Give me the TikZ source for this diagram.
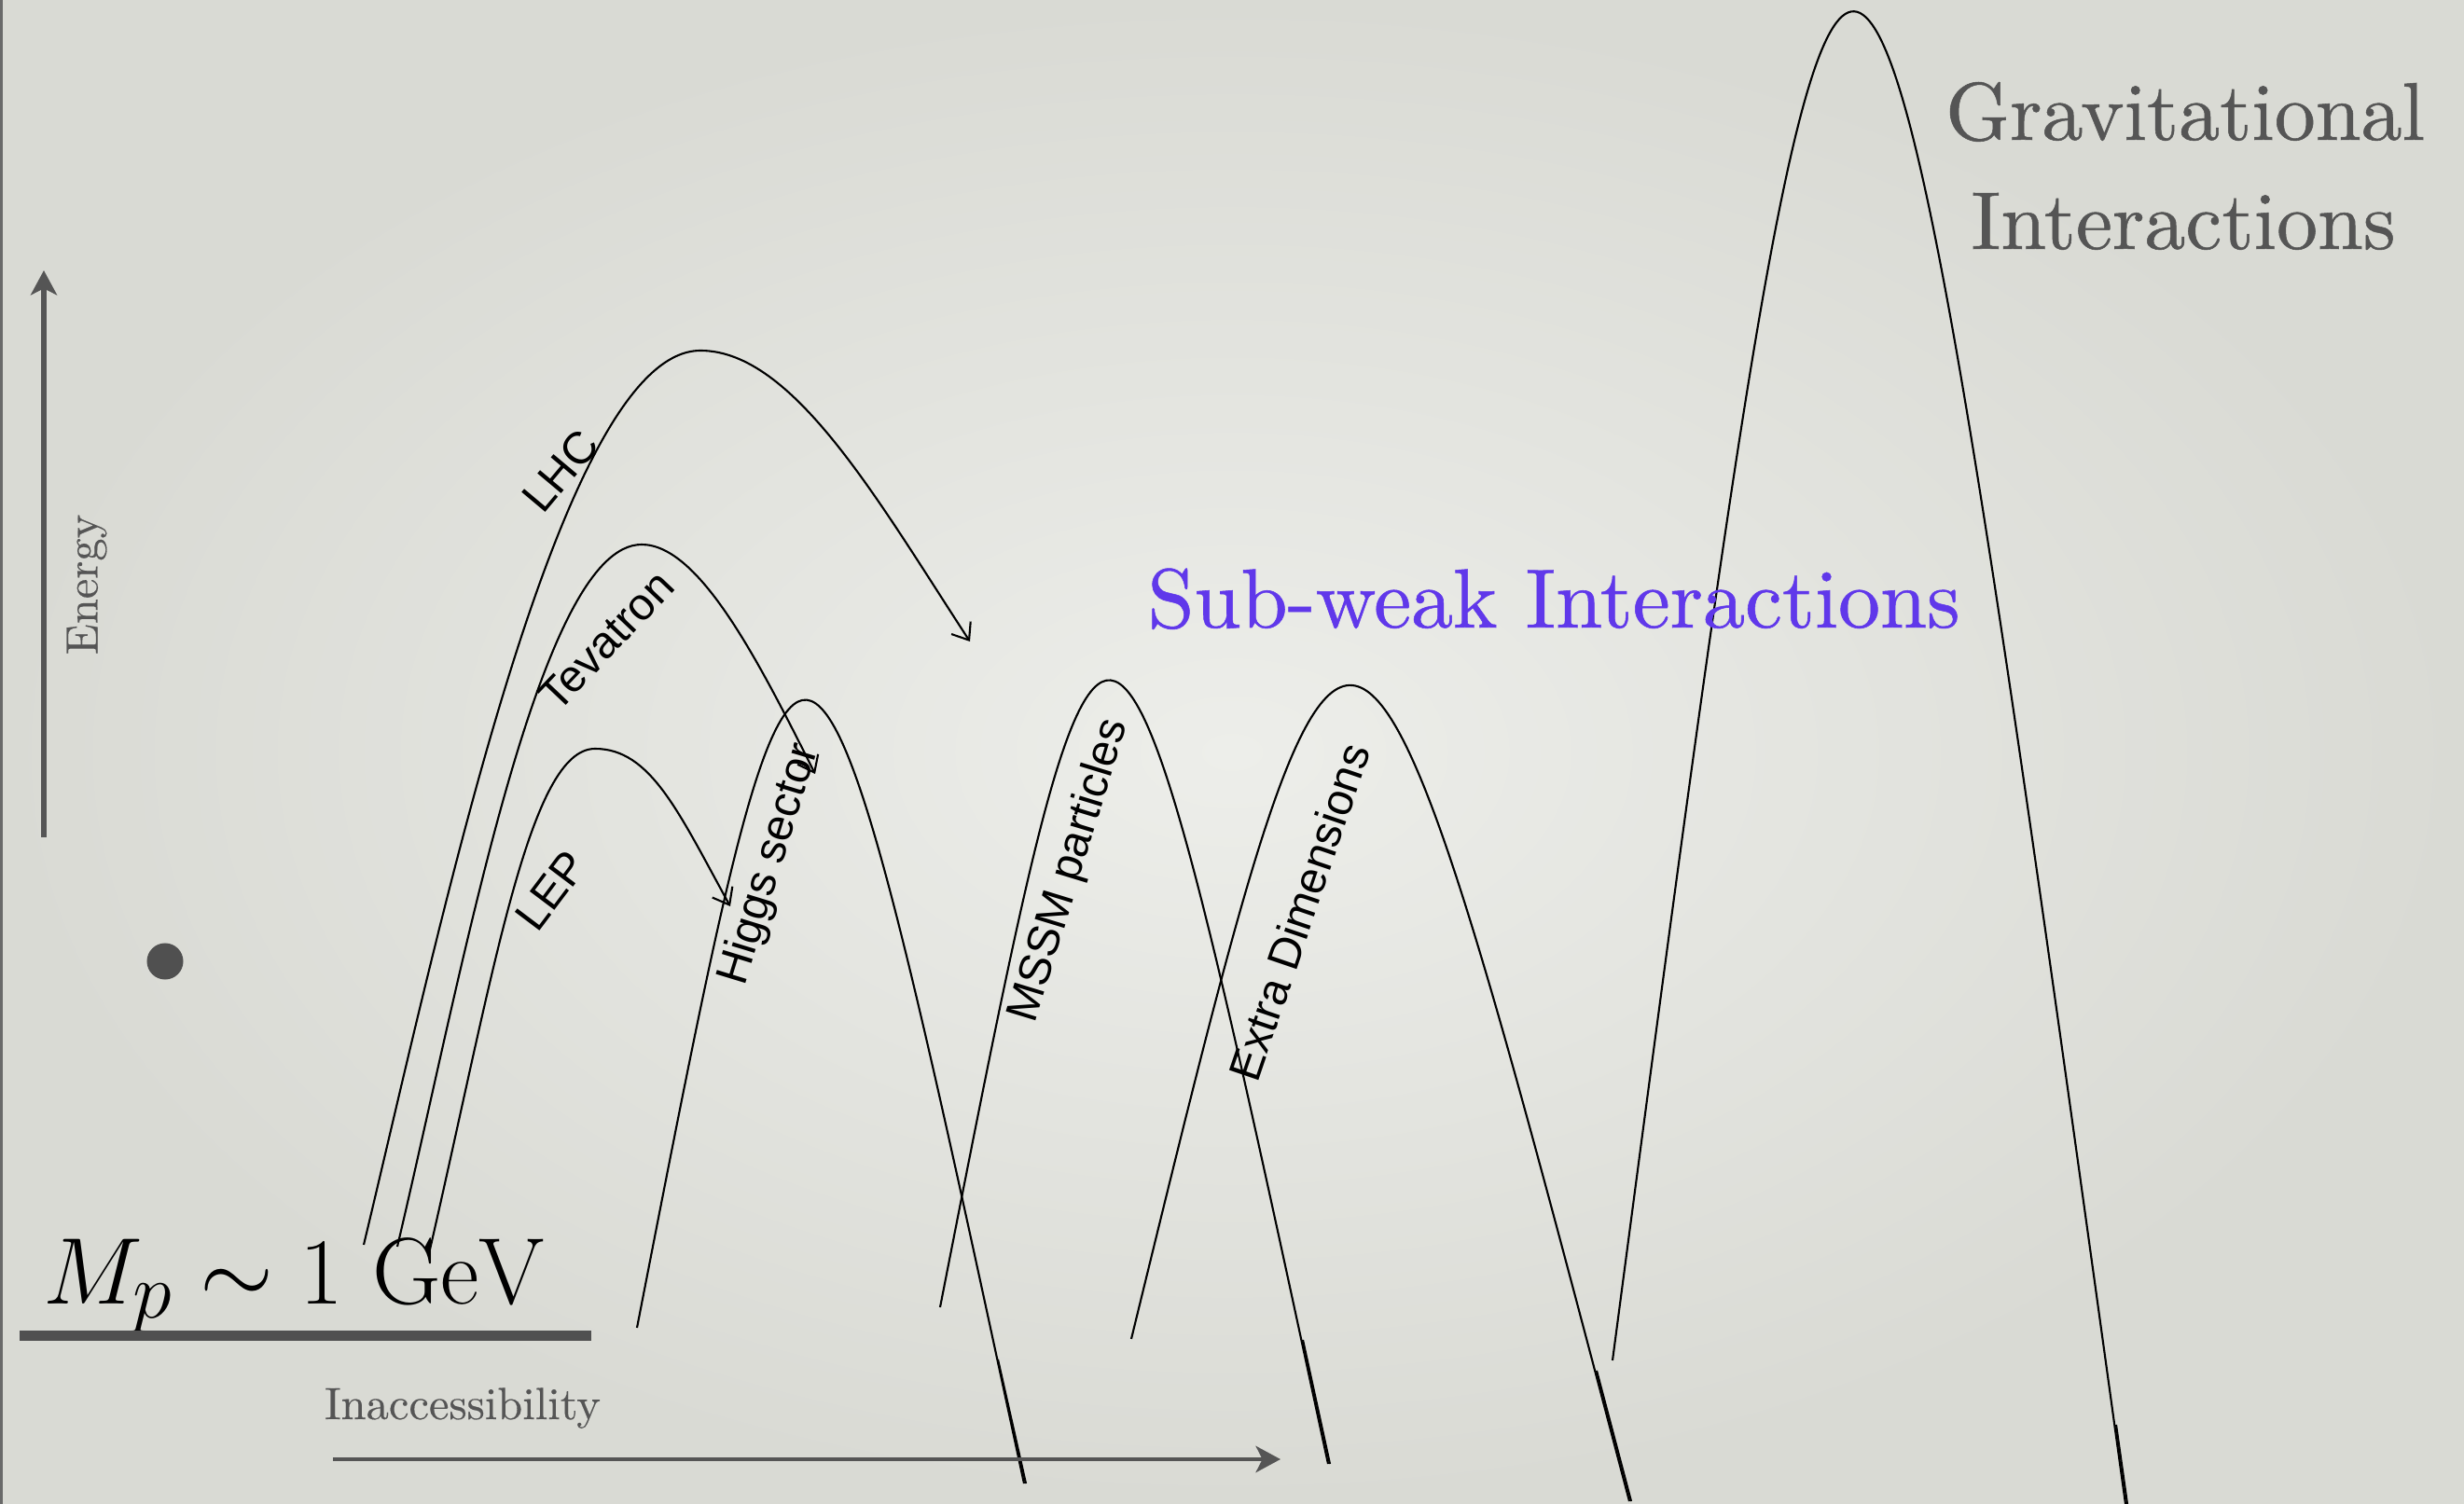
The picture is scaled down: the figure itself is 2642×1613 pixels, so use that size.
\documentclass[tikz,border=0pt]{standalone}
\usepackage{fontspec}
\newfontfamily\labfont{Liberation Sans}
\newfontfamily\serifreg[FakeBold=0.3]{lmroman10-regular.otf}
\newfontfamily\serifheavy[FakeBold=0.6]{lmroman10-regular.otf}
\usetikzlibrary{arrows.meta,bending}
\definecolor{bgin}{RGB}{237,238,234}
\definecolor{bgout}{RGB}{217,218,212}
\definecolor{txtgray}{RGB}{85,85,85}
\definecolor{bargray}{RGB}{80,80,80}
\definecolor{subweak}{RGB}{96,56,234}
\begin{document}
\begin{tikzpicture}[x=0.01cm,y=-0.01cm,
  arch/.style={line width=0.6pt, draw=black},
  archarrow/.style={arch, -{Straight Barb[length=4.5pt,width=7pt,line width=0.6pt]}},
  lab/.style={font=\labfont\fontsize{13.7}{16}\selectfont, inner sep=0pt},
  axisarrow/.style={draw=txtgray, -{Stealth[length=7.5pt,width=8pt,inset=2pt]}},
  grayserif/.style={text=txtgray, inner sep=0pt, font=\serifreg\fontsize{13.8}{16}\selectfont},
  bigserif/.style={inner sep=0pt, font=\serifheavy\fontsize{25}{32}\selectfont},
  ]
\useasboundingbox (0,0) rectangle (2642,1613);
\shade[inner color=bgin, outer color=bgout] (0,0) rectangle (2642,1613);
\fill[bargray!85] (0,0) rectangle (3,1613);

% ---- arches with arrows
\coordinate (lhcA) at (390,1335);
\coordinate (lhcP) at (751,376);
\coordinate (lhcB) at (1040,688);
\draw[archarrow] (lhcA) .. controls (474,985) and (601,376) .. (lhcP)
  .. controls (851,376) and (942,538) .. (lhcB);

\coordinate (tevA) at (426,1337);
\coordinate (tevP) at (688,584);
\coordinate (tevB) at (874,830);
\draw[archarrow] (tevA) .. controls (497,1037) and (578,584) .. (tevP)
  .. controls (750,584) and (814,710) .. (tevB);

\coordinate (lepA) at (461,1340);
\coordinate (lepP) at (638,803);
\coordinate (lepB) at (783,972);
\draw[archarrow] (lepA) .. controls (530,1040) and (568,803) .. (lepP)
  .. controls (698,803) and (728,872) .. (lepB);

% ---- plain arches
\coordinate (higA) at (683,1424);
\coordinate (higB) at (1098,1591);
\draw[arch] (higA) .. controls (863,500) and (863,500) .. (higB);
\draw[arch] (1070,1458) -- (1100,1591);

\coordinate (msA) at (1008,1402);
\coordinate (msB) at (1424,1570);
\draw[arch] (msA) .. controls (1189,479) and (1189,479) .. (msB);
\draw[arch] (1397,1437) -- (1426,1570);

\coordinate (edA) at (1213,1436);
\coordinate (edB) at (1747,1610);
\draw[arch] (edA) .. controls (1448,474) and (1448,474) .. (edB);
\draw[arch] (1712,1470) -- (1749,1610);

\coordinate (grA) at (1729,1459);
\coordinate (grB) at (2279,1613);
\draw[arch] (grA) .. controls (1987,-495) and (1987,-495) .. (grB);
\draw[arch] (2269,1528) -- (2281,1613);

% ---- labels
\node[lab, rotate=50] (lhc) at (601,505) {LHC};
\node[lab, rotate=46.5] (tev) at (650,687) {Tevatron};
\node[lab, rotate=53] (lep) at (591,955) {LEP};
\node[lab, rotate=73] (higgs) at (826,927) {Higgs sector};
\node[lab, rotate=73] (mssm) at (1147,934) {MSSM particles};
\node[lab, rotate=71.2] (ed) at (1393,978) {Extra Dimensions};

% ---- energy axis
\coordinate (eBot) at (47,898);
\coordinate (eTop) at (47,290);
\draw[axisarrow, line width=1.6pt] (eBot) -- (eTop);
\node[grayserif, rotate=90] (energy) at (93,627) {Energy};
\fill[bargray] (177,1031) circle (0.195cm);

% ---- Mp
\node[inner sep=0pt, anchor=base west, scale=1.16] (mp) at (46,1398)
  {\fontsize{24.88}{30}\selectfont $M_p \sim 1\ \mathrm{GeV}$};
\fill[bargray] (21,1427) rectangle (634,1438);

% ---- inaccessibility axis
\node[grayserif, anchor=base] (inacc) at (496,1522) {Inaccessibility};
\coordinate (iL) at (357,1565);
\coordinate (iR) at (1373,1565);
\draw[axisarrow, line width=1.35pt] (iL) -- (iR);

% ---- titles
\node[bigserif, text=subweak, anchor=base, font=\serifheavy\fontsize{25.6}{32}\selectfont] (sub) at (1666,673) {Sub-weak Interactions};
\node[bigserif, text=txtgray, anchor=base] (grav1) at (2343,150) {Gravitational};
\node[bigserif, text=txtgray, anchor=base] (grav2) at (2341,267) {Interactions};
\end{tikzpicture}
\end{document}
